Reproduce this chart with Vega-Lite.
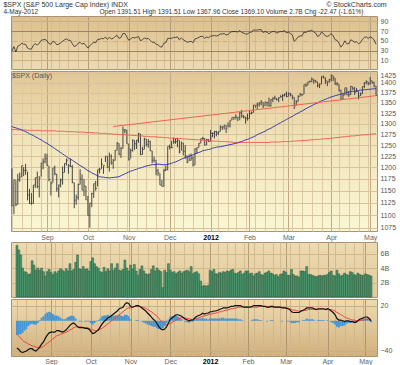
{
"$schema": "https://vega.github.io/schema/vega-lite/v6.json",
"padding": {"left": 3, "top": 1, "right": 2, "bottom": 0},
"background": "white",
"title": {"text": "$SPX (S&P 500 Large Cap Index) INDX\u00a0\u00a0\u00a0\u00a0\u00a0\u00a0\u00a0\u00a0\u00a0\u00a0\u00a0\u00a0\u00a0\u00a0\u00a0\u00a0\u00a0\u00a0\u00a0\u00a0\u00a0\u00a0\u00a0\u00a0\u00a0\u00a0\u00a0\u00a0\u00a0\u00a0\u00a0\u00a0\u00a0\u00a0\u00a0\u00a0\u00a0\u00a0\u00a0\u00a0\u00a0\u00a0\u00a0\u00a0\u00a0\u00a0\u00a0\u00a0\u00a0\u00a0\u00a0\u00a0\u00a0\u00a0\u00a0\u00a0\u00a0\u00a0\u00a0\u00a0\u00a0\u00a0\u00a0\u00a0\u00a0\u00a0\u00a0\u00a0\u00a0\u00a0\u00a0\u00a0\u00a0\u00a0\u00a0\u00a0\u00a0\u00a0\u00a0\u00a0\u00a0\u00a0\u00a0\u00a0\u00a0\u00a0\u00a0\u00a0\u00a0\u00a0\u00a0\u00a0\u00a0\u00a0\u00a0\u00a0\u00a0\u00a0\u00a0\u00a0\u00a0\u00a0© StockCharts.com", "subtitle": "4-May-2012\u00a0\u00a0\u00a0\u00a0\u00a0\u00a0\u00a0\u00a0\u00a0\u00a0\u00a0\u00a0\u00a0\u00a0\u00a0\u00a0\u00a0\u00a0\u00a0\u00a0\u00a0\u00a0\u00a0\u00a0\u00a0\u00a0\u00a0\u00a0\u00a0\u00a0\u00a0\u00a0\u00a0\u00a0Open 1391.51 High 1391.51 Low 1367.96 Close 1369.10 Volume 2.7B Chg -22.47 (-1.61%)", "anchor": "start", "dx": -6, "fontSize": 7, "fontWeight": "normal", "color": "#333", "subtitleFontSize": 6.5, "subtitleColor": "#333", "subtitlePadding": 1, "offset": 0, "font": "Liberation Sans", "subtitleFont": "Liberation Sans"},
"datasets": {
"t": [{"i": 52, "p": 1293}, {"i": 187, "p": 1368}],
"d": [
{"i":0,"h":1198,"l":1119,"c":1119,"v":7.1,"r":29,"m":-36,"s":-17,"g":-19,"a":1293,"b":1286},
{"i":1,"h":1173,"l":1102,"c":1173,"v":6.5,"r":38,"m":-38,"s":-20,"g":-18,"a":1291,"b":1286},
{"i":2,"h":1172,"l":1118,"c":1121,"v":5.8,"r":27,"m":-41,"s":-23,"g":-18,"a":1290,"b":1286},
{"i":3,"h":1186,"l":1121,"c":1173,"v":4.0,"r":39,"m":-42,"s":-26,"g":-16,"a":1288,"b":1285},
{"i":4,"h":1189,"l":1169,"c":1179,"v":3.5,"r":41,"m":-41,"s":-28,"g":-13,"a":1287,"b":1285},
{"i":5,"h":1204,"l":1179,"c":1204,"v":3.4,"r":45,"m":-40,"s":-29,"g":-11,"a":1285,"b":1285},
{"i":6,"h":1201,"l":1181,"c":1193,"v":3.1,"r":43,"m":-38,"s":-31,"g":-7,"a":1283,"b":1285},
{"i":7,"h":1208,"l":1184,"c":1194,"v":3.2,"r":43,"m":-37,"s":-32,"g":-5,"a":1281,"b":1285},
{"i":8,"h":1191,"l":1130,"c":1141,"v":5.0,"r":35,"m":-37,"s":-33,"g":-4,"a":1279,"b":1284},
{"i":9,"h":1154,"l":1123,"c":1124,"v":4.4,"r":33,"m":-39,"s":-34,"g":-5,"a":1276,"b":1284},
{"i":10,"h":1145,"l":1121,"c":1124,"v":3.7,"r":33,"m":-40,"s":-35,"g":-5,"a":1274,"b":1284},
{"i":11,"h":1162,"l":1123,"c":1162,"v":4.0,"r":41,"m":-38,"s":-35,"g":-3,"a":1272,"b":1284},
{"i":12,"h":1178,"l":1156,"c":1178,"v":3.7,"r":44,"m":-35,"s":-36,"g":1,"a":1269,"b":1284},
{"i":13,"h":1191,"l":1155,"c":1159,"v":4.0,"r":41,"m":-31,"s":-35,"g":4,"a":1267,"b":1284},
{"i":14,"h":1181,"l":1136,"c":1177,"v":3.5,"r":45,"m":-28,"s":-34,"g":6,"a":1264,"b":1284},
{"i":15,"h":1210,"l":1180,"c":1210,"v":2.9,"r":51,"m":-23,"s":-32,"g":9,"a":1262,"b":1283},
{"i":16,"h":1220,"l":1196,"c":1213,"v":3.5,"r":52,"m":-19,"s":-30,"g":11,"a":1259,"b":1283},
{"i":17,"h":1231,"l":1209,"c":1219,"v":3.8,"r":53,"m":-16,"s":-28,"g":12,"a":1256,"b":1283},
{"i":18,"h":1230,"l":1203,"c":1204,"v":3.4,"r":50,"m":-15,"s":-26,"g":11,"a":1254,"b":1283},
{"i":19,"h":1203,"l":1170,"c":1174,"v":3.1,"r":44,"m":-15,"s":-24,"g":9,"a":1251,"b":1283},
{"i":20,"h":1170,"l":1140,"c":1165,"v":3.5,"r":43,"m":-15,"s":-22,"g":7,"a":1248,"b":1283},
{"i":21,"h":1199,"l":1167,"c":1199,"v":3.3,"r":49,"m":-13,"s":-20,"g":7,"a":1245,"b":1283},
{"i":22,"h":1204,"l":1183,"c":1186,"v":3.6,"r":47,"m":-13,"s":-19,"g":6,"a":1242,"b":1283},
{"i":23,"h":1186,"l":1148,"c":1154,"v":3.9,"r":42,"m":-14,"s":-18,"g":4,"a":1239,"b":1282},
{"i":24,"h":1163,"l":1136,"c":1162,"v":3.7,"r":43,"m":-15,"s":-17,"g":2,"a":1236,"b":1282},
{"i":25,"h":1176,"l":1157,"c":1173,"v":3.5,"r":46,"m":-14,"s":-16,"g":2,"a":1233,"b":1282},
{"i":26,"h":1202,"l":1163,"c":1189,"v":3.9,"r":49,"m":-12,"s":-15,"g":3,"a":1230,"b":1282},
{"i":27,"h":1209,"l":1189,"c":1209,"v":3.6,"r":52,"m":-9,"s":-14,"g":5,"a":1227,"b":1282},
{"i":28,"h":1220,"l":1204,"c":1216,"v":4.6,"r":54,"m":-6,"s":-12,"g":6,"a":1224,"b":1281},
{"i":29,"h":1207,"l":1186,"c":1204,"v":3.6,"r":51,"m":-4,"s":-11,"g":7,"a":1221,"b":1281},
{"i":30,"h":1220,"l":1201,"c":1202,"v":3.8,"r":51,"m":-3,"s":-9,"g":6,"a":1218,"b":1281},
{"i":31,"h":1205,"l":1166,"c":1167,"v":4.8,"r":44,"m":-5,"s":-8,"g":3,"a":1216,"b":1281},
{"i":32,"h":1167,"l":1114,"c":1130,"v":5.8,"r":38,"m":-8,"s":-8,"g":0,"a":1213,"b":1281},
{"i":33,"h":1142,"l":1121,"c":1136,"v":3.9,"r":40,"m":-9,"s":-8,"g":-1,"a":1210,"b":1280},
{"i":34,"h":1165,"l":1131,"c":1163,"v":3.8,"r":45,"m":-9,"s":-8,"g":-1,"a":1207,"b":1280},
{"i":35,"h":1196,"l":1163,"c":1175,"v":4.2,"r":47,"m":-9,"s":-9,"g":0,"a":1204,"b":1280},
{"i":36,"h":1185,"l":1151,"c":1151,"v":3.8,"r":43,"m":-10,"s":-9,"g":-1,"a":1202,"b":1280},
{"i":37,"h":1175,"l":1139,"c":1160,"v":3.9,"r":45,"m":-10,"s":-9,"g":-1,"a":1199,"b":1280},
{"i":38,"h":1160,"l":1131,"c":1131,"v":3.6,"r":40,"m":-11,"s":-10,"g":-1,"a":1196,"b":1279},
{"i":39,"h":1139,"l":1099,"c":1099,"v":4.9,"r":35,"m":-14,"s":-11,"g":-3,"a":1193,"b":1279},
{"i":40,"h":1125,"l":1075,"c":1124,"v":5.4,"r":40,"m":-17,"s":-12,"g":-5,"a":1191,"b":1279},
{"i":41,"h":1146,"l":1116,"c":1144,"v":4.6,"r":44,"m":-16,"s":-13,"g":-3,"a":1188,"b":1279},
{"i":42,"h":1165,"l":1135,"c":1165,"v":4.2,"r":47,"m":-14,"s":-13,"g":-1,"a":1186,"b":1278},
{"i":43,"h":1171,"l":1150,"c":1155,"v":4.0,"r":46,"m":-12,"s":-13,"g":1,"a":1184,"b":1278},
{"i":44,"h":1195,"l":1159,"c":1195,"v":3.5,"r":53,"m":-8,"s":-11,"g":3,"a":1182,"b":1278},
{"i":45,"h":1199,"l":1187,"c":1196,"v":3.4,"r":53,"m":-4,"s":-10,"g":6,"a":1180,"b":1277},
{"i":46,"h":1220,"l":1197,"c":1207,"v":4.1,"r":55,"m":-1,"s":-8,"g":7,"a":1179,"b":1277},
{"i":47,"h":1204,"l":1186,"c":1204,"v":3.5,"r":54,"m":1,"s":-6,"g":7,"a":1179,"b":1277},
{"i":48,"h":1225,"l":1212,"c":1225,"v":3.9,"r":58,"m":4,"s":-4,"g":8,"a":1178,"b":1277},
{"i":49,"h":1225,"l":1199,"c":1201,"v":3.6,"r":53,"m":5,"s":-2,"g":7,"a":1178,"b":1276},
{"i":50,"h":1233,"l":1191,"c":1225,"v":4.6,"r":57,"m":7,"s":0,"g":7,"a":1177,"b":1276},
{"i":51,"h":1229,"l":1206,"c":1210,"v":3.7,"r":54,"m":9,"s":2,"g":7,"a":1178,"b":1276},
{"i":52,"h":1219,"l":1197,"c":1215,"v":4.0,"r":55,"m":11,"s":4,"g":7,"a":1178,"b":1275},
{"i":53,"h":1239,"l":1215,"c":1238,"v":4.6,"r":59,"m":13,"s":6,"g":7,"a":1179,"b":1275},
{"i":54,"h":1257,"l":1238,"c":1254,"v":3.7,"r":61,"m":16,"s":8,"g":8,"a":1179,"b":1275},
{"i":55,"h":1254,"l":1227,"c":1229,"v":3.6,"r":55,"m":17,"s":10,"g":7,"a":1180,"b":1274},
{"i":56,"h":1246,"l":1221,"c":1242,"v":3.8,"r":57,"m":18,"s":12,"g":6,"a":1182,"b":1274},
{"i":57,"h":1293,"l":1242,"c":1285,"v":5.1,"r":65,"m":22,"s":14,"g":8,"a":1184,"b":1274},
{"i":58,"h":1287,"l":1277,"c":1285,"v":4.0,"r":65,"m":24,"s":16,"g":8,"a":1186,"b":1274},
{"i":59,"h":1285,"l":1253,"c":1253,"v":3.6,"r":58,"m":23,"s":17,"g":6,"a":1188,"b":1273},
{"i":60,"h":1253,"l":1215,"c":1218,"v":4.4,"r":51,"m":19,"s":17,"g":2,"a":1190,"b":1273},
{"i":61,"h":1242,"l":1220,"c":1238,"v":3.9,"r":54,"m":18,"s":18,"g":0,"a":1192,"b":1273},
{"i":62,"h":1263,"l":1235,"c":1261,"v":4.5,"r":57,"m":19,"s":19,"g":0,"a":1193,"b":1272},
{"i":63,"h":1261,"l":1239,"c":1253,"v":3.6,"r":56,"m":20,"s":19,"g":1,"a":1195,"b":1272},
{"i":64,"h":1262,"l":1241,"c":1261,"v":3.0,"r":57,"m":20,"s":19,"g":1,"a":1196,"b":1272},
{"i":65,"h":1278,"l":1255,"c":1276,"v":3.8,"r":59,"m":19,"s":19,"g":0,"a":1198,"b":1271},
{"i":66,"h":1276,"l":1227,"c":1229,"v":4.3,"r":50,"m":17,"s":18,"g":-1,"a":1199,"b":1271},
{"i":67,"h":1246,"l":1228,"c":1240,"v":3.6,"r":52,"m":15,"s":17.5,"g":-2.5,"a":1200,"b":1271},
{"i":68,"h":1267,"l":1240,"c":1264,"v":3.2,"r":56,"m":13,"s":16.5,"g":-3.5,"a":1202,"b":1270},
{"i":69,"h":1264,"l":1247,"c":1252,"v":3.1,"r":54,"m":10,"s":15,"g":-5,"a":1203,"b":1270},
{"i":70,"h":1264,"l":1244,"c":1258,"v":3.2,"r":55,"m":8,"s":13.5,"g":-5.5,"a":1204,"b":1270},
{"i":71,"h":1260,"l":1236,"c":1237,"v":3.8,"r":51,"m":5,"s":12,"g":-7,"a":1205,"b":1269},
{"i":72,"h":1237,"l":1209,"c":1216,"v":4.3,"r":47,"m":2,"s":10,"g":-8,"a":1206,"b":1269},
{"i":73,"h":1224,"l":1211,"c":1216,"v":3.6,"r":47,"m":0,"s":8,"g":-8,"a":1206,"b":1269},
{"i":74,"h":1216,"l":1183,"c":1193,"v":4.0,"r":43,"m":-4,"s":6,"g":-10,"a":1207,"b":1269},
{"i":75,"h":1197,"l":1182,"c":1188,"v":3.7,"r":42,"m":-8,"s":3,"g":-11,"a":1207,"b":1268},
{"i":76,"h":1187,"l":1162,"c":1162,"v":3.5,"r":38,"m":-11,"s":0,"g":-11,"a":1207,"b":1268},
{"i":77,"h":1173,"l":1159,"c":1159,"v":1.3,"r":37,"m":-12,"s":-2,"g":-10,"a":1206,"b":1268},
{"i":78,"h":1197,"l":1159,"c":1193,"v":3.7,"r":45,"m":-11,"s":-4,"g":-7,"a":1206,"b":1267},
{"i":79,"h":1204,"l":1192,"c":1195,"v":3.4,"r":46,"m":-8,"s":-5,"g":-3,"a":1206,"b":1267},
{"i":80,"h":1247,"l":1194,"c":1247,"v":4.6,"r":55,"m":-3,"s":-4.5,"g":1.5,"a":1207,"b":1267},
{"i":81,"h":1251,"l":1240,"c":1245,"v":3.7,"r":55,"m":2,"s":-3.5,"g":5.5,"a":1208,"b":1266},
{"i":82,"h":1260,"l":1243,"c":1244,"v":3.4,"r":55,"m":4,"s":-2,"g":6,"a":1209,"b":1266},
{"i":83,"h":1267,"l":1253,"c":1257,"v":3.5,"r":57,"m":6,"s":-0.5,"g":6.5,"a":1211,"b":1266},
{"i":84,"h":1266,"l":1253,"c":1258,"v":3.2,"r":57,"m":8,"s":1,"g":7,"a":1212,"b":1265},
{"i":85,"h":1267,"l":1245,"c":1261,"v":3.4,"r":58,"m":8,"s":2.5,"g":5.5,"a":1214,"b":1265},
{"i":86,"h":1261,"l":1231,"c":1234,"v":3.6,"r":52,"m":7,"s":3.5,"g":3.5,"a":1216,"b":1265},
{"i":87,"h":1258,"l":1237,"c":1255,"v":3.3,"r":56,"m":6,"s":4,"g":2,"a":1218,"b":1265},
{"i":88,"h":1255,"l":1227,"c":1236,"v":3.5,"r":52,"m":4,"s":4,"g":0,"a":1220,"b":1264},
{"i":89,"h":1250,"l":1219,"c":1226,"v":3.6,"r":50,"m":2,"s":3.5,"g":-1.5,"a":1222,"b":1264},
{"i":90,"h":1226,"l":1209,"c":1212,"v":3.7,"r":47,"m":1,"s":3,"g":-2,"a":1223,"b":1264},
{"i":91,"h":1229,"l":1214,"c":1216,"v":3.5,"r":48,"m":0,"s":2.5,"g":-2.5,"a":1225,"b":1263},
{"i":92,"h":1231,"l":1215,"c":1220,"v":4.2,"r":49,"m":1,"s":2,"g":-1,"a":1226,"b":1263},
{"i":93,"h":1225,"l":1202,"c":1205,"v":3.2,"r":46,"m":1,"s":2,"g":-1,"a":1228,"b":1263},
{"i":94,"h":1243,"l":1205,"c":1241,"v":3.4,"r":54,"m":4,"s":2.5,"g":1.5,"a":1230,"b":1262},
{"i":95,"h":1245,"l":1230,"c":1244,"v":3.5,"r":55,"m":6,"s":3,"g":3,"a":1232,"b":1262},
{"i":96,"h":1255,"l":1244,"c":1254,"v":3.2,"r":57,"m":7,"s":4,"g":3,"a":1233,"b":1262},
{"i":97,"h":1265,"l":1254,"c":1265,"v":2.2,"r":59,"m":8,"s":5,"g":3,"a":1235,"b":1261},
{"i":98,"h":1269,"l":1262,"c":1265,"v":1.5,"r":59,"m":10,"s":6,"g":4,"a":1237,"b":1261},
{"i":99,"h":1266,"l":1249,"c":1250,"v":1.6,"r":55,"m":9,"s":6.5,"g":2.5,"a":1238,"b":1261},
{"i":100,"h":1264,"l":1250,"c":1263,"v":1.5,"r":58,"m":10,"s":7,"g":3,"a":1239,"b":1260},
{"i":101,"h":1264,"l":1257,"c":1258,"v":1.6,"r":56,"m":10,"s":8,"g":2,"a":1240,"b":1260},
{"i":102,"h":1285,"l":1258,"c":1277,"v":3.7,"r":60,"m":12,"s":9,"g":3,"a":1241,"b":1260},
{"i":103,"h":1279,"l":1268,"c":1277,"v":3.5,"r":60,"m":12,"s":9,"g":3,"a":1243,"b":1259},
{"i":104,"h":1283,"l":1265,"c":1281,"v":3.8,"r":61,"m":13,"s":10,"g":3,"a":1244,"b":1259},
{"i":105,"h":1283,"l":1270,"c":1278,"v":3.2,"r":60,"m":13,"s":10,"g":3,"a":1245,"b":1259},
{"i":106,"h":1282,"l":1273,"c":1281,"v":3.2,"r":61,"m":14,"s":11,"g":3,"a":1246,"b":1259},
{"i":107,"h":1296,"l":1281,"c":1292,"v":3.4,"r":64,"m":15,"s":12,"g":3,"a":1246,"b":1258},
{"i":108,"h":1294,"l":1285,"c":1292,"v":3.3,"r":64,"m":16,"s":12,"g":4,"a":1247,"b":1258},
{"i":109,"h":1297,"l":1286,"c":1296,"v":3.5,"r":65,"m":17,"s":13,"g":4,"a":1248,"b":1258},
{"i":110,"h":1296,"l":1278,"c":1289,"v":3.4,"r":62,"m":17,"s":14,"g":3,"a":1249,"b":1258},
{"i":111,"h":1303,"l":1291,"c":1294,"v":3.6,"r":63,"m":17,"s":14,"g":3,"a":1250,"b":1257},
{"i":112,"h":1308,"l":1291,"c":1308,"v":3.5,"r":67,"m":18,"s":15,"g":3,"a":1251,"b":1257},
{"i":113,"h":1315,"l":1308,"c":1315,"v":3.7,"r":69,"m":19,"s":16,"g":3,"a":1252,"b":1257},
{"i":114,"h":1315,"l":1309,"c":1315,"v":3.8,"r":69,"m":19,"s":16,"g":3,"a":1253,"b":1256},
{"i":115,"h":1322,"l":1310,"c":1316,"v":3.3,"r":69,"m":20,"s":17,"g":3,"a":1254,"b":1256},
{"i":116,"h":1315,"l":1306,"c":1315,"v":3.2,"r":68,"m":20,"s":17,"g":3,"a":1255,"b":1256},
{"i":117,"h":1328,"l":1308,"c":1326,"v":3.4,"r":71,"m":20,"s":18,"g":2,"a":1257,"b":1256},
{"i":118,"h":1333,"l":1314,"c":1318,"v":3.6,"r":67,"m":20,"s":18,"g":2,"a":1258,"b":1256},
{"i":119,"h":1320,"l":1312,"c":1316,"v":3.1,"r":66,"m":19,"s":18,"g":1,"a":1260,"b":1256},
{"i":120,"h":1316,"l":1300,"c":1313,"v":3.3,"r":64,"m":18,"s":18,"g":0,"a":1262,"b":1256},
{"i":121,"h":1324,"l":1307,"c":1312,"v":3.6,"r":64,"m":18,"s":18,"g":0,"a":1263,"b":1256},
{"i":122,"h":1331,"l":1312,"c":1324,"v":3.6,"r":67,"m":18,"s":18,"g":0,"a":1265,"b":1256},
{"i":123,"h":1329,"l":1322,"c":1326,"v":3.2,"r":68,"m":18,"s":18,"g":0,"a":1267,"b":1256},
{"i":124,"h":1345,"l":1326,"c":1345,"v":3.3,"r":72,"m":19,"s":18,"g":1,"a":1269,"b":1256},
{"i":125,"h":1344,"l":1338,"c":1344,"v":2.9,"r":72,"m":20,"s":18,"g":2,"a":1271,"b":1256},
{"i":126,"h":1351,"l":1335,"c":1347,"v":3.2,"r":72,"m":20,"s":18,"g":2,"a":1274,"b":1256},
{"i":127,"h":1352,"l":1341,"c":1350,"v":3.3,"r":73,"m":20,"s":18,"g":2,"a":1276,"b":1256},
{"i":128,"h":1357,"l":1344,"c":1352,"v":3.5,"r":73,"m":20,"s":19,"g":1,"a":1278,"b":1256},
{"i":129,"h":1352,"l":1337,"c":1343,"v":3.1,"r":67,"m":20,"s":19,"g":1,"a":1280,"b":1256},
{"i":130,"h":1353,"l":1343,"c":1352,"v":3.0,"r":69,"m":19,"s":19,"g":0,"a":1282,"b":1256},
{"i":131,"h":1352,"l":1341,"c":1351,"v":3.3,"r":68,"m":19,"s":19,"g":0,"a":1285,"b":1256},
{"i":132,"h":1363,"l":1341,"c":1343,"v":3.4,"r":64,"m":18,"s":19,"g":-1,"a":1287,"b":1256},
{"i":133,"h":1359,"l":1341,"c":1358,"v":3.6,"r":68,"m":18,"s":18,"g":0,"a":1289,"b":1257},
{"i":134,"h":1364,"l":1352,"c":1361,"v":3.3,"r":69,"m":19,"s":18,"g":1,"a":1292,"b":1257},
{"i":135,"h":1368,"l":1358,"c":1362,"v":3.2,"r":69,"m":19,"s":18,"g":1,"a":1294,"b":1257},
{"i":136,"h":1362,"l":1356,"c":1358,"v":3.0,"r":66,"m":18,"s":18,"g":0,"a":1297,"b":1257},
{"i":137,"h":1364,"l":1352,"c":1363,"v":3.1,"r":68,"m":18,"s":18,"g":0,"a":1300,"b":1257},
{"i":138,"h":1369,"l":1363,"c":1366,"v":2.8,"r":69,"m":18,"s":18,"g":0,"a":1302,"b":1257},
{"i":139,"h":1372,"l":1355,"c":1368,"v":3.1,"r":69,"m":18,"s":18,"g":0,"a":1305,"b":1258},
{"i":140,"h":1373,"l":1366,"c":1372,"v":3.2,"r":71,"m":17,"s":18,"g":-1,"a":1307,"b":1258},
{"i":141,"h":1378,"l":1364,"c":1366,"v":3.6,"r":66,"m":17,"s":17,"g":0,"a":1310,"b":1258},
{"i":142,"h":1376,"l":1366,"c":1374,"v":3.4,"r":68,"m":17,"s":17,"g":0,"a":1312,"b":1258},
{"i":143,"h":1375,"l":1366,"c":1370,"v":3.0,"r":65,"m":16,"s":17,"g":-1,"a":1315,"b":1258},
{"i":144,"h":1370,"l":1359,"c":1364,"v":3.0,"r":62,"m":15,"s":16,"g":-1,"a":1317,"b":1259},
{"i":145,"h":1364,"l":1335,"c":1343,"v":3.8,"r":49,"m":12,"s":15,"g":-3,"a":1320,"b":1259},
{"i":146,"h":1357,"l":1343,"c":1353,"v":3.1,"r":53,"m":11,"s":14,"g":-3,"a":1323,"b":1259},
{"i":147,"h":1369,"l":1353,"c":1366,"v":2.9,"r":58,"m":11,"s":14,"g":-3,"a":1325,"b":1260},
{"i":148,"h":1375,"l":1366,"c":1371,"v":2.9,"r":60,"m":11,"s":13,"g":-2,"a":1328,"b":1260},
{"i":149,"h":1373,"l":1367,"c":1371,"v":2.7,"r":60,"m":11,"s":13,"g":-2,"a":1330,"b":1260},
{"i":150,"h":1396,"l":1372,"c":1396,"v":3.6,"r":68,"m":13,"s":13,"g":0,"a":1333,"b":1261},
{"i":151,"h":1399,"l":1390,"c":1394,"v":3.6,"r":67,"m":14,"s":13,"g":1,"a":1336,"b":1261},
{"i":152,"h":1403,"l":1394,"c":1403,"v":3.5,"r":70,"m":15,"s":14,"g":1,"a":1338,"b":1261},
{"i":153,"h":1406,"l":1401,"c":1404,"v":4.2,"r":70,"m":17,"s":14,"g":3,"a":1341,"b":1262},
{"i":154,"h":1414,"l":1402,"c":1410,"v":3.1,"r":72,"m":17,"s":15,"g":2,"a":1343,"b":1262},
{"i":155,"h":1410,"l":1398,"c":1406,"v":3.1,"r":68,"m":17,"s":15,"g":2,"a":1346,"b":1262},
{"i":156,"h":1408,"l":1401,"c":1403,"v":3.0,"r":66,"m":17,"s":15,"g":2,"a":1348,"b":1263},
{"i":157,"h":1403,"l":1389,"c":1393,"v":2.9,"r":59,"m":16,"s":15,"g":1,"a":1350,"b":1263},
{"i":158,"h":1399,"l":1387,"c":1397,"v":2.8,"r":61,"m":15,"s":15,"g":0,"a":1353,"b":1263},
{"i":159,"h":1417,"l":1397,"c":1417,"v":2.9,"r":68,"m":16,"s":15,"g":1,"a":1355,"b":1264},
{"i":160,"h":1419,"l":1412,"c":1413,"v":3.0,"r":65,"m":16,"s":15,"g":1,"a":1357,"b":1264},
{"i":161,"h":1414,"l":1397,"c":1406,"v":2.9,"r":60,"m":16,"s":15,"g":1,"a":1359,"b":1265},
{"i":162,"h":1405,"l":1392,"c":1403,"v":3.0,"r":59,"m":16,"s":15,"g":1,"a":1361,"b":1265},
{"i":163,"h":1411,"l":1401,"c":1408,"v":3.0,"r":61,"m":15,"s":15,"g":0,"a":1363,"b":1265},
{"i":164,"h":1422,"l":1404,"c":1419,"v":3.1,"r":65,"m":16,"s":15,"g":1,"a":1365,"b":1266},
{"i":165,"h":1419,"l":1405,"c":1413,"v":3.4,"r":60,"m":15,"s":15,"g":0,"a":1366,"b":1266},
{"i":166,"h":1413,"l":1395,"c":1399,"v":3.6,"r":52,"m":13,"s":15,"g":-2,"a":1368,"b":1267},
{"i":167,"h":1402,"l":1393,"c":1398,"v":3.0,"r":51,"m":11,"s":14,"g":-3,"a":1369,"b":1267},
{"i":168,"h":1397,"l":1378,"c":1382,"v":2.9,"r":45,"m":8,"s":13,"g":-5,"a":1371,"b":1268},
{"i":169,"h":1383,"l":1357,"c":1359,"v":3.7,"r":37,"m":3,"s":11,"g":-8,"a":1372,"b":1268},
{"i":170,"h":1375,"l":1359,"c":1369,"v":3.2,"r":42,"m":1,"s":10,"g":-9,"a":1373,"b":1269},
{"i":171,"h":1388,"l":1369,"c":1388,"v":2.9,"r":50,"m":1,"s":8,"g":-7,"a":1374,"b":1269},
{"i":172,"h":1388,"l":1370,"c":1370,"v":3.0,"r":44,"m":0,"s":7,"g":-7,"a":1376,"b":1270},
{"i":173,"h":1380,"l":1365,"c":1370,"v":3.3,"r":44,"m":-1,"s":5,"g":-6,"a":1377,"b":1270},
{"i":174,"h":1393,"l":1370,"c":1391,"v":3.1,"r":52,"m":0,"s":4,"g":-4,"a":1378,"b":1271},
{"i":175,"h":1391,"l":1383,"c":1385,"v":3.0,"r":50,"m":0,"s":3,"g":-3,"a":1379,"b":1271},
{"i":176,"h":1390,"l":1370,"c":1377,"v":3.5,"r":47,"m":-1,"s":2,"g":-3,"a":1379,"b":1271},
{"i":177,"h":1387,"l":1377,"c":1379,"v":3.4,"r":48,"m":-1,"s":1,"g":-2,"a":1380,"b":1272},
{"i":178,"h":1379,"l":1359,"c":1367,"v":3.1,"r":44,"m":-2,"s":1,"g":-3,"a":1381,"b":1272},
{"i":179,"h":1376,"l":1367,"c":1372,"v":3.0,"r":46,"m":-2,"s":0,"g":-2,"a":1382,"b":1273},
{"i":180,"h":1391,"l":1372,"c":1391,"v":3.3,"r":53,"m":0,"s":0,"g":0,"a":1382,"b":1273},
{"i":181,"h":1402,"l":1387,"c":1400,"v":3.1,"r":57,"m":2,"s":0,"g":2,"a":1383,"b":1274},
{"i":182,"h":1407,"l":1397,"c":1403,"v":3.0,"r":58,"m":3,"s":1,"g":2,"a":1383,"b":1274},
{"i":183,"h":1403,"l":1394,"c":1398,"v":3.0,"r":55,"m":4,"s":1,"g":3,"a":1384,"b":1274},
{"i":184,"h":1415,"l":1396,"c":1406,"v":3.2,"r":58,"m":5,"s":2,"g":3,"a":1384,"b":1275},
{"i":185,"h":1406,"l":1398,"c":1402,"v":3.1,"r":56,"m":5,"s":2,"g":3,"a":1385,"b":1275},
{"i":186,"h":1403,"l":1389,"c":1392,"v":3.0,"r":52,"m":3,"s":2,"g":1,"a":1385,"b":1276},
{"i":187,"h":1392,"l":1368,"c":1369,"v":2.9,"r":43,"m":0,"s":2,"g":-2,"a":1386,"b":1276}
]},
"spacing": 0,
"vconcat": [
{"width": 366, "height": 53, "data": {"name": "d"},
 "view": {"fill": {"gradient": "linear", "x1": 0, "y1": 0, "x2": 0, "y2": 1, "stops": [{"offset": 0, "color": "#dcbf8e"}, {"offset": 1, "color": "#eddbb1"}]}},
 "encoding": {"x": {"field": "i", "type": "quantitative", "scale": {"domain": [-0.5, 187.5], "nice": false, "zero": false},
   "axis": {"title": null, "labels": false, "ticks": false, "domain": false, "labelPadding": 0, "minExtent": 0, "maxExtent": 0, "values": [0,5,10,15,18,20,24,29,34,39,44,49,54,59,60,64,69,74,78,81,83,88,93,98,102,106,111,115,120,122,125,130,135,139,142,144,149,154,159,164,168,173,178,183,184], "gridColor": {"condition": {"test": "indexof([18,39,60,81,102,122,142,164,184], datum.value) >= 0", "value": "#b59c78"}, "value": "#d3bb92"}}}},
 "layer": [
  {"mark": {"type": "line", "color": "#2a2a2a", "strokeWidth": 0.8},
   "encoding": {"y": {"field": "r", "type": "quantitative", "scale": {"domain": [-8, 101], "nice": false, "zero": false},
     "axis": {"title": null, "orient": "right", "values": [10, 30, 50, 70, 90], "labelPadding": 3, "gridColor": {"condition": {"test": "datum.value==70||datum.value==30", "value": "#9c8460"}, "value": "#c9b089"}, "gridDash": {"condition": {"test": "datum.value==50", "value": [5, 2, 1, 2]}, "value": []}}}}}
 ]},
{"width": 366, "height": 160, "data": {"name": "d"},
 "title": {"text": "$SPX (Daily)", "anchor": "start", "orient": "top", "offset": -8, "dx": 2, "fontSize": 7, "fontWeight": "normal", "color": "#555", "font": "Liberation Sans"},
 "view": {"fill": {"gradient": "linear", "x1": 0, "y1": 0, "x2": 0, "y2": 1, "stops": [{"offset": 0, "color": "#e2c695"}, {"offset": 0.45, "color": "#f2e5bb"}, {"offset": 1, "color": "#faf7d4"}]}},
 "encoding": {"x": {"field": "i", "type": "quantitative", "scale": {"domain": [-0.5, 187.5], "nice": false, "zero": false},
   "axis": {"title": null, "ticks": false, "domain": false, "labelPadding": 2, "labelOverlap": false, "labelBound": false, "labelFlush": false, "values": [0,5,10,15,18,20,24,29,34,39,44,49,54,59,60,64,69,74,78,81,83,88,93,98,102,106,111,115,120,122,125,130,135,139,142,144,149,154,159,164,168,173,178,183,184],
     "labelExpr": "datum.value==18?'Sep':datum.value==39?'Oct':datum.value==60?'Nov':datum.value==81?'Dec':datum.value==102?'2012':datum.value==122?'Feb':datum.value==142?'Mar':datum.value==164?'Apr':datum.value==184?'May':''",
     "labelFontWeight": {"condition": {"test": "datum.value==102", "value": "bold"}, "value": "normal"},
     "labelColor": {"condition": {"test": "datum.value==102", "value": "#000"}, "value": "#666"},
     "gridColor": {"condition": {"test": "indexof([18,39,60,81,102,122,142,164,184], datum.value) >= 0", "value": "#c0a985"}, "value": "#ddc9a2"}}}},
 "layer": [
  {"mark": {"type": "rule", "strokeWidth": 1, "color": "#444444"},
   "encoding": {"y": {"field": "l", "type": "quantitative", "scale": {"type": "log", "domain": [1068.5, 1431], "nice": false, "zero": false},
      "axis": {"title": null, "orient": "right", "labelPadding": 3, "labelOffset": {"condition": {"test": "datum.value==1425", "value": 2}, "value": 0}, "values": [1075,1100,1125,1150,1175,1200,1225,1250,1275,1300,1325,1350,1375,1400,1425], "format": "d", "gridColor": "#d8c39c"}},
    "y2": {"field": "h"}}},
  {"mark": {"type": "tick", "orient": "horizontal", "size": 1.6, "thickness": 1, "xOffset": 0.8, "color": "#444444"},
   "encoding": {"y": {"field": "c", "type": "quantitative"}}},
  {"mark": {"type": "line", "color": "#f06452", "strokeWidth": 1},
   "encoding": {"y": {"field": "b", "type": "quantitative"}}},
  {"mark": {"type": "line", "color": "#3c3cae", "strokeWidth": 1},
   "encoding": {"y": {"field": "a", "type": "quantitative"}}},
  {"data": {"name": "t"}, "mark": {"type": "line", "color": "#f06452", "strokeWidth": 1},
   "encoding": {"y": {"field": "p", "type": "quantitative"}}}
 ]},
{"width": 366, "height": 55, "data": {"name": "d"},
 "view": {"fill": {"gradient": "linear", "x1": 0, "y1": 0, "x2": 0, "y2": 1, "stops": [{"offset": 0, "color": "#ecdab0"}, {"offset": 1, "color": "#e2ca9c"}]}},
 "mark": {"type": "bar", "size": 1.9, "fill": "#4f9a70", "stroke": "#25573b", "strokeWidth": 0.5},
 "encoding": {
  "x": {"field": "i", "type": "quantitative", "scale": {"domain": [-0.5, 187.5], "nice": false, "zero": false},
   "axis": {"title": null, "labels": false, "ticks": false, "domain": false, "labelPadding": 0, "minExtent": 0, "maxExtent": 0, "values": [0,5,10,15,18,20,24,29,34,39,44,49,54,59,60,64,69,74,78,81,83,88,93,98,102,106,111,115,120,122,125,130,135,139,142,144,149,154,159,164,168,173,178,183,184], "gridColor": {"condition": {"test": "indexof([18,39,60,81,102,122,142,164,184], datum.value) >= 0", "value": "#b59c78"}, "value": "#d3bb92"}}},
  "y": {"field": "v", "type": "quantitative", "scale": {"domain": [0, 7.6], "nice": false},
   "axis": {"title": null, "orient": "right", "values": [2, 4, 6], "labelExpr": "datum.value + 'B'", "labelPadding": 3, "gridColor": "#d0b88e"}}}},
{"width": 366, "height": 57, "data": {"name": "d"},
 "view": {"fill": {"gradient": "linear", "x1": 0, "y1": 0, "x2": 0, "y2": 1, "stops": [{"offset": 0, "color": "#eddbb1"}, {"offset": 1, "color": "#d2b07e"}]}},
 "encoding": {"x": {"field": "i", "type": "quantitative", "scale": {"domain": [-0.5, 187.5], "nice": false, "zero": false},
   "axis": {"title": null, "ticks": false, "domain": false, "labelPadding": 1, "labelOverlap": false, "labelBound": false, "labelFlush": false, "values": [0,5,10,15,18,20,24,29,34,39,44,49,54,59,60,64,69,74,78,81,83,88,93,98,102,106,111,115,120,122,125,130,135,139,142,144,149,154,159,164,168,173,178,183,184],
     "labelExpr": "datum.value==18?'Sep':datum.value==39?'Oct':datum.value==60?'Nov':datum.value==81?'Dec':datum.value==102?'2012':datum.value==122?'Feb':datum.value==142?'Mar':datum.value==164?'Apr':datum.value==184?'May':''",
     "labelFontWeight": {"condition": {"test": "datum.value==102", "value": "bold"}, "value": "normal"},
     "labelColor": {"condition": {"test": "datum.value==102", "value": "#000"}, "value": "#666"},
     "gridColor": {"condition": {"test": "indexof([18,39,60,81,102,122,142,164,184], datum.value) >= 0", "value": "#b09670"}, "value": "#cfb68c"}}}},
 "layer": [
  {"mark": {"type": "bar", "size": 1.9, "color": "#4495d2"},
   "encoding": {"y": {"field": "g", "type": "quantitative", "scale": {"domain": [-46.7, 28.9], "nice": false},
     "axis": {"title": null, "orient": "right", "values": [-40, -20, 0, 20], "labelPadding": 3, "gridColor": "#c9ae84"}}}},
  {"mark": {"type": "line", "color": "#f04535", "strokeWidth": 1},
   "encoding": {"y": {"field": "s", "type": "quantitative"}}},
  {"mark": {"type": "line", "color": "#111111", "strokeWidth": 1.2},
   "encoding": {"y": {"field": "m", "type": "quantitative"}}}
 ]}
],
"config": {
 "font": "Liberation Sans",
 "view": {"stroke": "#a89272", "strokeWidth": 1},
 "axis": {"labelFont": "Liberation Sans", "labelFontSize": 7, "labelColor": "#555", "domain": false, "ticks": false, "grid": true, "gridWidth": 1}
}
}
